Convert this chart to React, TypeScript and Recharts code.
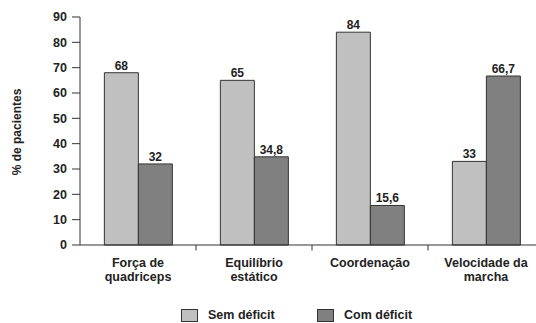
import React from "react";
import { BarChart, Bar, XAxis, YAxis, Legend, LabelList, ReferenceLine } from "recharts";

const categories = ["Força de\nquadriceps", "Equilíbrio\nestático", "Coordenação", "Velocidade da\nmarcha"];
const semDeficit = [68, 65, 84, 33];
const comDeficit = [32, 34.8, 15.6, 66.7];
const yTicks = [0, 10, 20, 30, 40, 50, 60, 70, 80, 90];
const seriesNames = ["Sem déficit", "Com déficit"];
const boundaryCats = [categories[1], categories[2], categories[3]];

const data = categories.map((c, i) => ({ cat: c, sem: semDeficit[i], com: comDeficit[i] }));

const FONT = "'Liberation Sans', Arial, sans-serif";
const LIGHT = "#c0c0c0";
const DARK = "#808080";
const LINE = "#333333";

const fmt = (v: any) => String(v).replace(".", ",");

const CatTick = (props: any) => {
  const { x, y, payload } = props;
  const lines = String(payload.value).split("\n");
  return (
    <text x={x} y={y} textAnchor="middle" fontFamily={FONT} fontWeight="bold" fontSize={12.5} fill="#222">
      {lines.map((l, i) => (
        <tspan key={i} x={x} dy={14}>{l}</tspan>
      ))}
    </text>
  );
};

const LegendContent = () => {
  const items = [
    { name: seriesNames[0], color: LIGHT, left: 181 },
    { name: seriesNames[1], color: DARK, left: 317 },
  ];
  return (
    <div style={{ position: "relative", width: 536, height: 16 }}>
      {items.map((it) => (
        <div key={it.name} style={{ position: "absolute", left: it.left, top: 0, display: "flex", alignItems: "center" }}>
          <div style={{ width: 15, height: 11, background: it.color, border: `1px solid ${LINE}` }} />
          <span style={{ marginLeft: 10, fontFamily: FONT, fontWeight: "bold", fontSize: 12.5, color: "#222" }}>{it.name}</span>
        </div>
      ))}
    </div>
  );
};

export default function App() {
  return (
    <div style={{ position: "absolute", left: 0, top: 0, width: 536, height: 323, overflow: "hidden", background: "#fff" }}>
      <BarChart
        width={560}
        height={323}
        data={data}
        margin={{ top: 17, right: 16, bottom: 38, left: 30 }}
        barCategoryGap="21%"
        barGap={0}
      >
        <XAxis
          dataKey="cat"
          height={40}
          tick={<CatTick />}
          tickLine={false}
          axisLine={{ stroke: LINE }}
          interval={0}
        />
        <YAxis
          width={50}
          domain={[0, 90]}
          ticks={yTicks}
          interval={0}
          tickSize={8}
          tickMargin={5}
          tickLine={{ stroke: LINE }}
          axisLine={{ stroke: LINE }}
          tick={{ fontFamily: FONT, fontWeight: "bold", fontSize: 12.5, fill: "#222" }}
          label={{
            content: () => (
              <text x={21} y={132} transform="rotate(-90 21 132)" textAnchor="middle" fontFamily={FONT} fontWeight="bold" fontSize={12} fill="#222">
                % de pacientes
              </text>
            ),
          }}
        />
        {boundaryCats.map((c) => (
          <ReferenceLine
            key={c}
            segment={[{ x: c, y: 0 }, { x: c, y: -2.2 }]}
            position="start"
            stroke={LINE}
            ifOverflow="visible"
          />
        ))}
        <Bar dataKey="sem" name={seriesNames[0]} fill={LIGHT} stroke={LINE} strokeWidth={1} isAnimationActive={false}>
          <LabelList dataKey="sem" position="top" offset={3} formatter={fmt} style={{ fontFamily: FONT, fontWeight: "bold", fontSize: 12, fill: "#222" }} />
        </Bar>
        <Bar dataKey="com" name={seriesNames[1]} fill={DARK} stroke={LINE} strokeWidth={1} isAnimationActive={false}>
          <LabelList dataKey="com" position="top" offset={3} formatter={fmt} style={{ fontFamily: FONT, fontWeight: "bold", fontSize: 12, fill: "#222" }} />
        </Bar>
        <Legend
          layout="horizontal"
          verticalAlign="middle"
          align="center"
          content={<LegendContent />}
          wrapperStyle={{ position: "absolute", top: 308, left: 0, width: 536, height: 16 }}
        />
      </BarChart>
    </div>
  );
}
